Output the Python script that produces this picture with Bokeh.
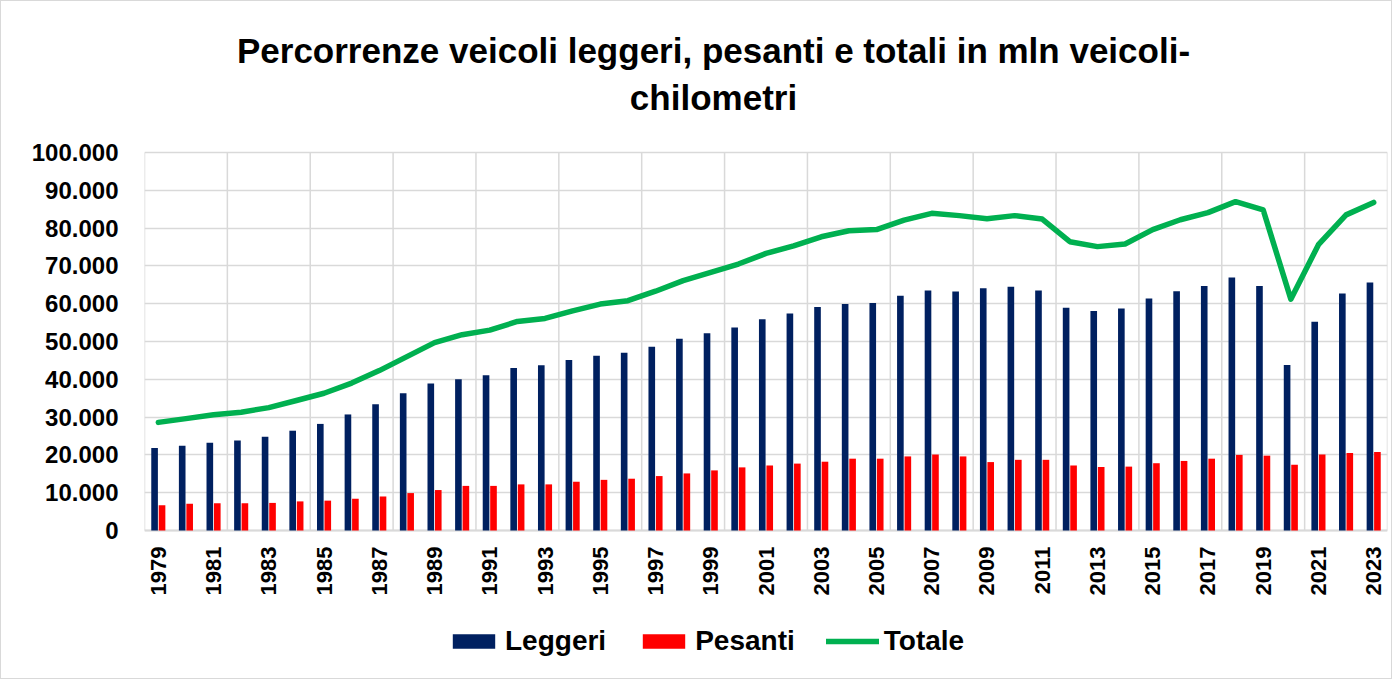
import math
from bokeh.plotting import figure
from bokeh.models import (FixedTicker, Legend, LegendItem, Label, ColumnDataSource)
from bokeh.core.properties import value
from bokeh.embed import file_html
from bokeh.resources import INLINE

years = list(range(1979, 2024))
leggeri = [21800, 22400, 23200, 23800, 24800, 26400, 28200, 30700, 33400, 36300,
           38900, 40000, 41100, 43000, 43700, 45100, 46200, 47000, 48600, 50700,
           52200, 53700, 55900, 57400, 59100, 59900, 60200, 62100, 63500, 63200,
           64100, 64500, 63500, 58900, 58100, 58700, 61400, 63300, 64700, 66900,
           64700, 43800, 55200, 62700, 65600]
pesanti = [6700, 7100, 7200, 7200, 7300, 7700, 7900, 8400, 9000, 9900,
           10700, 11800, 11800, 12200, 12200, 12900, 13400, 13700, 14400, 15100,
           15900, 16700, 17200, 17700, 18200, 19000, 19000, 19600, 20100, 19600,
           18100, 18700, 18700, 17200, 16800, 16900, 17800, 18400, 19000, 20000,
           19800, 17400, 20100, 20500, 20800]
totale = [28600, 29600, 30600, 31300, 32500, 34400, 36300, 39000, 42300, 46000,
          49700, 51800, 53000, 55300, 56100, 58100, 59900, 60800, 63300, 66100,
          68300, 70500, 73300, 75300, 77700, 79300, 79600, 82100, 83900, 83300,
          82500, 83300, 82400, 76400, 75100, 75800, 79600, 82200, 84100, 87000,
          84800, 61200, 75600, 83500, 86800]
x_tick_years = list(range(1979, 2024, 2))
x_tick_labels = [str(y) for y in x_tick_years]
y_ticks = list(range(0, 100001, 10000))
y_tick_labels = {v: f"{v:,}".replace(",", ".") for v in y_ticks}
series_names = ["Leggeri", "Pesanti", "Totale"]
title_lines = ["Percorrenze veicoli leggeri, pesanti e totali in mln veicoli-", "chilometri"]

C_LEG = "#002060"
C_PES = "#FF0000"
C_TOT = "#00B050"
GRID = "#D9D9D9"
FONT = "Liberation Sans"

# layout (page pixels)
CANVAS_TOP, CANVAS_BOTTOM = 1, 680
PLOT_TOP, PLOT_BOTTOM = 152, 530          # pixel rows of 100.000 and 0
PLOT_LEFT = 144
Y_MAX = 100000
px_per_unit = (PLOT_BOTTOM - PLOT_TOP) / Y_MAX
y_end = Y_MAX + (PLOT_TOP - CANVAS_TOP) / px_per_unit
y_start = -(CANVAS_BOTTOM - PLOT_BOTTOM) / px_per_unit

p = figure(width=1392, height=CANVAS_BOTTOM - CANVAS_TOP, output_backend="svg",
           toolbar_location=None, x_axis_location=None,
           x_range=(years[0] - 0.5, years[-1] + 0.5), y_range=(y_start, y_end),
           min_border_left=143, min_border_right=6, min_border_top=0,
           min_border_bottom=0)
p.styles = {"border": "1px solid #D9D9D9"}
p.outline_line_color = None
p.background_fill_color = "white"
p.border_fill_color = "white"
p.title.visible = False

src = ColumnDataSource(dict(
    x_l=[y - 0.135 for y in years], x_p=[y + 0.135 for y in years], x=years,
    leg=leggeri, pes=pesanti, tot=totale))

# grids
p.xgrid.grid_line_color = None
p.ygrid.ticker = FixedTicker(ticks=y_ticks)
p.ygrid.grid_line_color = GRID
p.ygrid.grid_line_width = 1.5
vlines = [years[0] - 0.5 + 3 * k for k in range(16)]
p.segment(x0=vlines, y0=[0] * len(vlines), x1=vlines, y1=[Y_MAX] * len(vlines),
          line_color=GRID, line_width=1.5)
p.segment(x0=[years[0] - 0.5], y0=[0], x1=[years[-1] + 0.5], y1=[0],
          line_color=GRID, line_width=2.2)

r_leg = p.vbar(x="x_l", top="leg", width=0.24, source=src, fill_color=C_LEG, line_color=None)
r_pes = p.vbar(x="x_p", top="pes", width=0.24, source=src, fill_color=C_PES, line_color=None)
r_tot = p.line(x="x", y="tot", source=src, line_color=C_TOT, line_width=5.5,
               line_join="round", line_cap="round")

# x tick labels (rotated, reading upward)
lab_y = -(546 - PLOT_BOTTOM) / px_per_unit
p.text(x=x_tick_years, y=[lab_y] * len(x_tick_years), text=x_tick_labels,
       angle=math.pi / 2, text_align="right", text_baseline="middle",
       text_font=value(FONT), text_font_style="bold", text_font_size="22px",
       text_color="black")

# y axis
ya = p.yaxis[0]
ya.ticker = FixedTicker(ticks=y_ticks)
ya.major_label_overrides = y_tick_labels
ya.major_label_text_font = FONT
ya.major_label_text_font_style = "bold"
ya.major_label_text_font_size = "24px"
ya.major_label_text_color = "black"
ya.major_tick_line_color = None
ya.minor_tick_line_color = None
ya.major_tick_out = 0
ya.major_tick_in = 0
ya.major_label_standoff = 26
ya.axis_line_color = None

# title (screen units relative to frame bottom-left)
for txt, yc in zip(title_lines, [50, 97]):
    p.add_layout(Label(x=713 - PLOT_LEFT, y=CANVAS_BOTTOM - yc, x_units="screen",
                       y_units="screen", text=txt, text_align="center",
                       text_baseline="middle", text_font=FONT, text_font_style="bold",
                       text_font_size="35px", text_color="black"))

legend = Legend(items=[LegendItem(label=series_names[0], renderers=[r_leg]),
                       LegendItem(label=series_names[1], renderers=[r_pes]),
                       LegendItem(label=series_names[2], renderers=[r_tot])],
                location=(447 - PLOT_LEFT, CANVAS_BOTTOM - 657), orientation="horizontal",
                glyph_width=53, glyph_height=18, label_standoff=5, spacing=31,
                label_text_font=FONT, label_text_font_style="bold",
                label_text_font_size="28px", label_text_color="black",
                margin=0, padding=0, border_line_color=None,
                background_fill_alpha=0)
p.add_layout(legend, "center")

open("out.html", "w").write(file_html(p, INLINE))
